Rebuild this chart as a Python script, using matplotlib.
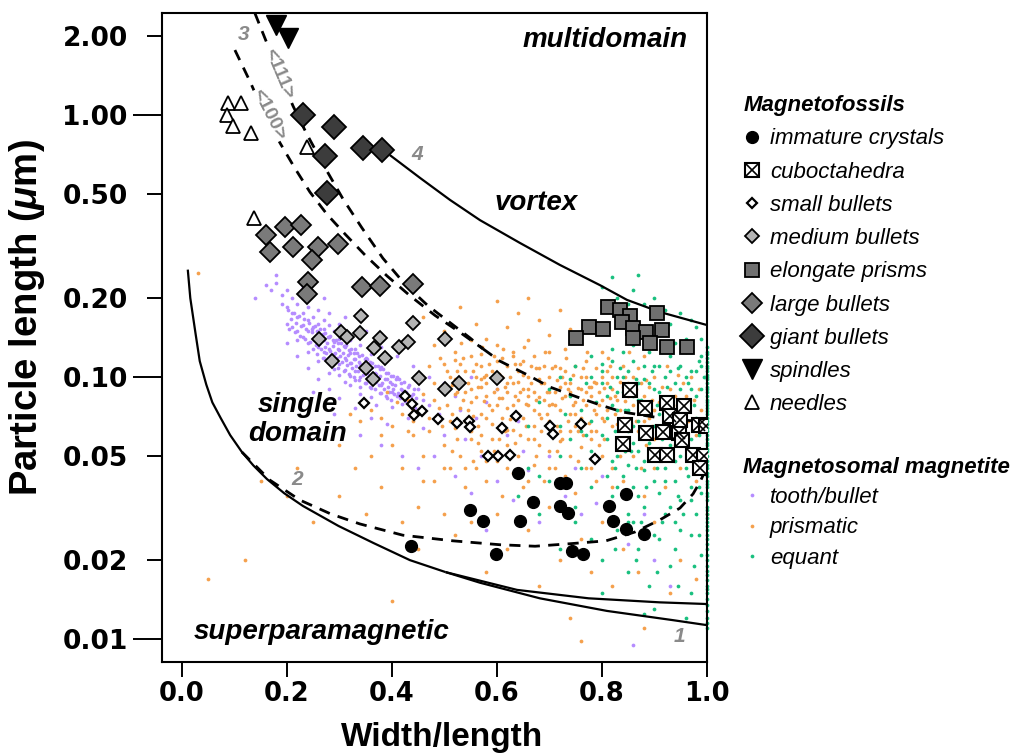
import matplotlib
matplotlib.use('Agg')
import matplotlib.pyplot as plt
from matplotlib.ticker import FixedLocator, FixedFormatter
from matplotlib.legend_handler import HandlerTuple

plt.rcParams['font.family'] = ['Liberation Sans', 'DejaVu Sans']
plt.rcParams['mathtext.fontset'] = 'custom'
plt.rcParams['mathtext.it'] = 'Liberation Sans:italic:bold'
plt.rcParams['mathtext.rm'] = 'Liberation Sans:bold'

# ---- magnetofossil morphologies (width/length, length in um) ----
immature_x = [0.640, 0.720, 0.732, 0.669, 0.720, 0.736, 0.549, 0.574, 0.644, 0.598, 0.743, 0.764,
              0.846, 0.814, 0.821, 0.846, 0.881, 0.436]
immature_y = [0.0430, 0.0394, 0.0394, 0.0333, 0.0322, 0.0303, 0.0311, 0.0282, 0.0282, 0.0211, 0.0217, 0.0211,
              0.0358, 0.0322, 0.0282, 0.0263, 0.0252, 0.0226]

cubo_x = [0.854, 0.882, 0.924, 0.957, 0.844, 0.884, 0.917, 0.947, 0.985, 0.999, 0.841, 0.902, 0.924,
          0.974, 0.995, 0.987, 0.930, 0.949, 0.953]
cubo_y = [0.0892, 0.0762, 0.0796, 0.0775, 0.0656, 0.0611, 0.0617, 0.0611, 0.0656, 0.0650, 0.0555, 0.0504,
          0.0504, 0.0504, 0.0500, 0.0450, 0.0710, 0.0686, 0.0575]

small_x = [0.347, 0.425, 0.438, 0.457, 0.442, 0.488, 0.524, 0.547, 0.549, 0.610, 0.637, 0.701, 0.707,
           0.760, 0.583, 0.602, 0.625, 0.787]
small_y = [0.0796, 0.0846, 0.0789, 0.0742, 0.0716, 0.0692, 0.0668, 0.0679, 0.0645, 0.0639, 0.0710, 0.0650,
           0.0606, 0.0662, 0.0500, 0.0500, 0.0504, 0.0486]

medium_x = [0.341, 0.440, 0.261, 0.303, 0.315, 0.339, 0.377, 0.366, 0.387, 0.414, 0.431, 0.501, 0.286,
            0.351, 0.364, 0.452, 0.501, 0.528, 0.600]
medium_y = [0.171, 0.161, 0.140, 0.149, 0.142, 0.147, 0.141, 0.129, 0.118, 0.130, 0.136, 0.140, 0.115,
            0.108, 0.098, 0.099, 0.090, 0.095, 0.099]

elong_x = [0.812, 0.835, 0.854, 0.839, 0.905, 0.776, 0.802, 0.751, 0.860, 0.884, 0.915, 0.860, 0.892,
           0.924, 0.962]
elong_y = [0.185, 0.180, 0.171, 0.162, 0.176, 0.155, 0.153, 0.141, 0.154, 0.149, 0.151, 0.141, 0.135,
           0.130, 0.130]

large_x = [0.161, 0.196, 0.226, 0.168, 0.212, 0.260, 0.298, 0.247, 0.241, 0.238, 0.343, 0.377, 0.440]
large_y = [0.348, 0.375, 0.380, 0.299, 0.313, 0.313, 0.321, 0.280, 0.231, 0.207, 0.221, 0.223, 0.227]

giant_x = [0.231, 0.290, 0.273, 0.346, 0.381, 0.276]
giant_y = [1.00, 0.898, 0.697, 0.746, 0.735, 0.505]

spindle_x = [0.180, 0.203]
spindle_y = [2.21, 1.96]

needle_x = [0.088, 0.112, 0.085, 0.098, 0.131, 0.238, 0.137]
needle_y = [1.108, 1.114, 1.00, 0.908, 0.852, 0.757, 0.403]

# ---- magnetosomal magnetite (TEM measurements) ----
tooth_pts = [
    (0.17, 0.215), (0.16, 0.225), (0.18, 0.228), (0.19, 0.205), (0.20, 0.215), (0.21, 0.200), (0.19, 0.190),
    (0.20, 0.185), (0.21, 0.175), (0.22, 0.190), (0.23, 0.200), (0.24, 0.185), (0.22, 0.170), (0.23, 0.175),
    (0.24, 0.165), (0.25, 0.170), (0.26, 0.180), (0.27, 0.165), (0.28, 0.175), (0.20, 0.160), (0.21, 0.155),
    (0.22, 0.150), (0.23, 0.158), (0.24, 0.150), (0.25, 0.155), (0.26, 0.160), (0.27, 0.152), (0.28, 0.158),
    (0.29, 0.150), (0.30, 0.160), (0.22, 0.138), (0.23, 0.142), (0.24, 0.135), (0.25, 0.140), (0.26, 0.145),
    (0.27, 0.138), (0.28, 0.142), (0.29, 0.136), (0.30, 0.140), (0.31, 0.145), (0.32, 0.138), (0.24, 0.125),
    (0.25, 0.128), (0.26, 0.130), (0.27, 0.125), (0.28, 0.128), (0.29, 0.122), (0.30, 0.127), (0.31, 0.130),
    (0.32, 0.123), (0.33, 0.128), (0.34, 0.132), (0.26, 0.115), (0.27, 0.118), (0.28, 0.113), (0.29, 0.116),
    (0.30, 0.112), (0.31, 0.118), (0.32, 0.113), (0.33, 0.117), (0.34, 0.112), (0.35, 0.118), (0.36, 0.122),
    (0.28, 0.104), (0.29, 0.107), (0.30, 0.102), (0.31, 0.106), (0.32, 0.101), (0.33, 0.105), (0.34, 0.100),
    (0.35, 0.104), (0.36, 0.108), (0.37, 0.103), (0.38, 0.109), (0.31, 0.096), (0.32, 0.093), (0.33, 0.097),
    (0.34, 0.092), (0.35, 0.095), (0.36, 0.091), (0.37, 0.096), (0.38, 0.093), (0.39, 0.098), (0.40, 0.094),
    (0.41, 0.100), (0.34, 0.086), (0.36, 0.084), (0.38, 0.087), (0.39, 0.083), (0.40, 0.088), (0.41, 0.085),
    (0.42, 0.089), (0.43, 0.092), (0.44, 0.086), (0.45, 0.090), (0.37, 0.078), (0.40, 0.077), (0.42, 0.079),
    (0.44, 0.080), (0.46, 0.082), (0.47, 0.078), (0.14, 0.200), (0.18, 0.245), (0.23, 0.220), (0.27, 0.200),
    (0.31, 0.170), (0.35, 0.150), (0.38, 0.130), (0.41, 0.120), (0.44, 0.110), (0.47, 0.100), (0.50, 0.095),
    (0.52, 0.085), (0.49, 0.072), (0.53, 0.075), (0.56, 0.070), (0.58, 0.080), (0.20, 0.135), (0.22, 0.120),
    (0.24, 0.108), (0.26, 0.098), (0.28, 0.090), (0.30, 0.083), (0.33, 0.076), (0.36, 0.070), (0.39, 0.066),
    (0.43, 0.070), (0.46, 0.064), (0.50, 0.060), (0.54, 0.058), (0.57, 0.050), (0.62, 0.060), (0.65, 0.052),
    (0.34, 0.060), (0.38, 0.055), (0.42, 0.050), (0.45, 0.045), (0.48, 0.050), (0.52, 0.042), (0.55, 0.036),
    (0.60, 0.040), (0.63, 0.034), (0.66, 0.044), (0.70, 0.050), (0.73, 0.035), (0.76, 0.030), (0.79, 0.033),
    (0.82, 0.028), (0.85, 0.023), (0.88, 0.030), (0.90, 0.020), (0.80, 0.042), (0.68, 0.028), (0.58, 0.026),
    (0.86, 0.0095), (0.93, 0.016), (0.75, 0.045), (0.64, 0.068), (0.60, 0.090), (0.55, 0.100), (0.29, 0.072),
    (0.25, 0.088),
    (0.205, 0.153), (0.207, 0.166), (0.203, 0.181), (0.215, 0.148), (0.217, 0.161), (0.213, 0.176),
    (0.225, 0.144), (0.227, 0.157), (0.223, 0.171), (0.235, 0.140), (0.237, 0.152), (0.233, 0.166),
    (0.245, 0.136), (0.247, 0.148), (0.243, 0.161), (0.255, 0.132), (0.257, 0.144), (0.253, 0.157),
    (0.265, 0.128), (0.267, 0.139), (0.263, 0.152), (0.275, 0.124), (0.277, 0.135), (0.273, 0.147),
    (0.285, 0.121), (0.287, 0.131), (0.283, 0.143), (0.295, 0.118), (0.297, 0.128), (0.293, 0.139),
    (0.305, 0.114), (0.307, 0.124), (0.303, 0.135), (0.315, 0.111), (0.317, 0.121), (0.313, 0.132),
    (0.325, 0.108), (0.327, 0.117), (0.323, 0.128), (0.335, 0.105), (0.337, 0.114), (0.333, 0.124),
    (0.345, 0.102), (0.347, 0.111), (0.343, 0.121), (0.355, 0.098), (0.357, 0.107), (0.353, 0.117),
    (0.365, 0.096), (0.367, 0.104), (0.363, 0.113), (0.375, 0.093), (0.377, 0.101), (0.373, 0.110),
    (0.385, 0.090), (0.387, 0.098), (0.383, 0.107), (0.395, 0.088), (0.397, 0.096), (0.393, 0.104),
    (0.405, 0.086), (0.407, 0.093), (0.403, 0.101), (0.415, 0.083), (0.417, 0.090), (0.413, 0.098),
    (0.425, 0.081), (0.427, 0.088), (0.423, 0.096), (0.435, 0.078), (0.437, 0.085), (0.433, 0.093),
    (0.445, 0.076), (0.447, 0.083), (0.443, 0.090),
    (0.252, 0.138), (0.262, 0.134), (0.272, 0.130), (0.282, 0.126), (0.292, 0.124), (0.302, 0.120),
    (0.312, 0.116), (0.322, 0.113), (0.332, 0.110), (0.342, 0.107), (0.352, 0.104), (0.362, 0.101),
    (0.372, 0.098), (0.382, 0.095), (0.392, 0.092), (0.402, 0.090), (0.412, 0.087), (0.258, 0.122),
    (0.268, 0.118), (0.278, 0.116), (0.288, 0.112), (0.298, 0.108), (0.308, 0.105), (0.318, 0.103),
    (0.328, 0.100), (0.338, 0.097), (0.348, 0.095), (0.358, 0.092), (0.368, 0.090), (0.378, 0.087),
    (0.388, 0.085), (0.398, 0.082), (0.248, 0.152), (0.258, 0.150), (0.268, 0.146), (0.278, 0.142),
    (0.288, 0.139), (0.298, 0.135), (0.308, 0.131), (0.318, 0.127), (0.328, 0.123), (0.338, 0.120),
    (0.348, 0.117), (0.358, 0.114), (0.368, 0.110), (0.378, 0.107), (0.388, 0.104), (0.398, 0.101),
    (0.408, 0.098), (0.418, 0.095)]

prism_pts = [
    (0.46, 0.170), (0.50, 0.150), (0.53, 0.185), (0.56, 0.160), (0.58, 0.140), (0.60, 0.195), (0.62, 0.155),
    (0.64, 0.175), (0.66, 0.138), (0.68, 0.165), (0.70, 0.145), (0.72, 0.180), (0.74, 0.152), (0.76, 0.135),
    (0.60, 0.132), (0.55, 0.138), (0.66, 0.200), (0.70, 0.125), (0.78, 0.148), (0.80, 0.125), (0.52, 0.125),
    (0.48, 0.132), (0.57, 0.122), (0.63, 0.125), (0.73, 0.128),
    (0.45, 0.100), (0.46, 0.086), (0.47, 0.110), (0.48, 0.095), (0.49, 0.076), (0.50, 0.090), (0.50, 0.112),
    (0.51, 0.100), (0.52, 0.086), (0.52, 0.116), (0.53, 0.095), (0.53, 0.076), (0.54, 0.105), (0.54, 0.068),
    (0.55, 0.090), (0.55, 0.120), (0.55, 0.080), (0.56, 0.100), (0.56, 0.084), (0.57, 0.110), (0.57, 0.072),
    (0.58, 0.095), (0.58, 0.085), (0.59, 0.105), (0.59, 0.066), (0.60, 0.090), (0.60, 0.115), (0.60, 0.078),
    (0.57, 0.092), (0.58, 0.102), (0.61, 0.100), (0.61, 0.070), (0.62, 0.088), (0.62, 0.110), (0.62, 0.076),
    (0.63, 0.095), (0.63, 0.063), (0.64, 0.105), (0.64, 0.082), (0.65, 0.090), (0.65, 0.070), (0.65, 0.115),
    (0.63, 0.120), (0.61, 0.083), (0.64, 0.096), (0.66, 0.100), (0.66, 0.078), (0.67, 0.088), (0.67, 0.065),
    (0.68, 0.108), (0.68, 0.072), (0.69, 0.095), (0.69, 0.082), (0.70, 0.100), (0.70, 0.068), (0.70, 0.088),
    (0.67, 0.120), (0.66, 0.090), (0.68, 0.084), (0.71, 0.110), (0.71, 0.078), (0.72, 0.092), (0.72, 0.062),
    (0.73, 0.085), (0.73, 0.105), (0.74, 0.072), (0.74, 0.095), (0.75, 0.080), (0.75, 0.110), (0.75, 0.065),
    (0.72, 0.075), (0.74, 0.088), (0.76, 0.090), (0.76, 0.070), (0.77, 0.100), (0.77, 0.078), (0.78, 0.085),
    (0.78, 0.062), (0.79, 0.095), (0.79, 0.072), (0.80, 0.082), (0.80, 0.100), (0.77, 0.115), (0.79, 0.108),
    (0.81, 0.075), (0.82, 0.090), (0.82, 0.065), (0.83, 0.082), (0.84, 0.070), (0.85, 0.095), (0.86, 0.078),
    (0.87, 0.062), (0.88, 0.085), (0.89, 0.070), (0.90, 0.100), (0.84, 0.110), (0.88, 0.120), (0.81, 0.105),
    (0.83, 0.058), (0.91, 0.080), (0.92, 0.065), (0.93, 0.090), (0.95, 0.070), (0.96, 0.085), (0.98, 0.060),
    (0.99, 0.075), (0.94, 0.055), (0.97, 0.100), (0.38, 0.070), (0.40, 0.065), (0.41, 0.080), (0.42, 0.072),
    (0.43, 0.062), (0.44, 0.075), (0.39, 0.088), (0.36, 0.075), (0.34, 0.068), (0.32, 0.072),
    (0.505, 0.078), (0.515, 0.093), (0.525, 0.105), (0.535, 0.082), (0.545, 0.095), (0.555, 0.071),
    (0.565, 0.092), (0.575, 0.081), (0.585, 0.112), (0.595, 0.088), (0.605, 0.103), (0.615, 0.092),
    (0.625, 0.069), (0.635, 0.085), (0.645, 0.112), (0.655, 0.079), (0.665, 0.095), (0.675, 0.108),
    (0.685, 0.062), (0.695, 0.088), (0.705, 0.079), (0.715, 0.097), (0.725, 0.083), (0.735, 0.068),
    (0.745, 0.102), (0.755, 0.091), (0.765, 0.082), (0.775, 0.067), (0.785, 0.096), (0.795, 0.078),
    (0.805, 0.091), (0.815, 0.083), (0.825, 0.072), (0.835, 0.096), (0.845, 0.081), (0.855, 0.067),
    (0.865, 0.090), (0.875, 0.075), (0.885, 0.097), (0.895, 0.082), (0.51, 0.068), (0.53, 0.112),
    (0.55, 0.062), (0.57, 0.098), (0.59, 0.075), (0.61, 0.118), (0.63, 0.078), (0.65, 0.102), (0.67, 0.075),
    (0.69, 0.110), (0.71, 0.088), (0.73, 0.095), (0.75, 0.072), (0.77, 0.088), (0.79, 0.062), (0.81, 0.095),
    (0.83, 0.066), (0.85, 0.085), (0.87, 0.108), (0.89, 0.092), (0.52, 0.098), (0.54, 0.088), (0.56, 0.112),
    (0.58, 0.070), (0.60, 0.100), (0.62, 0.095), (0.64, 0.072), (0.66, 0.085), (0.68, 0.098), (0.70, 0.078),
    (0.72, 0.108), (0.74, 0.062), (0.76, 0.100), (0.78, 0.092), (0.80, 0.070), (0.82, 0.100), (0.84, 0.092),
    (0.86, 0.100), (0.88, 0.068), (0.90, 0.075), (0.605, 0.058), (0.645, 0.060), (0.685, 0.070),
    (0.725, 0.058), (0.765, 0.060), (0.805, 0.058), (0.845, 0.052), (0.885, 0.055), (0.565, 0.056),
    (0.525, 0.058),
    (0.505, 0.105), (0.515, 0.072), (0.525, 0.088), (0.535, 0.118), (0.545, 0.075), (0.555, 0.105),
    (0.565, 0.065), (0.575, 0.100), (0.585, 0.078), (0.595, 0.120), (0.605, 0.083), (0.615, 0.062),
    (0.625, 0.100), (0.635, 0.112), (0.645, 0.088), (0.655, 0.065), (0.665, 0.110), (0.675, 0.082),
    (0.685, 0.095), (0.695, 0.072), (0.705, 0.108), (0.715, 0.065), (0.725, 0.100), (0.735, 0.090),
    (0.745, 0.078), (0.755, 0.062), (0.765, 0.108), (0.775, 0.092), (0.785, 0.075), (0.795, 0.088),
    (0.805, 0.068), (0.815, 0.110), (0.825, 0.085), (0.835, 0.075), (0.845, 0.100), (0.855, 0.088),
    (0.865, 0.068), (0.875, 0.095), (0.885, 0.078), (0.895, 0.065), (0.612, 0.128), (0.652, 0.130),
    (0.692, 0.125), (0.732, 0.118), (0.772, 0.125), (0.812, 0.118), (0.852, 0.125), (0.572, 0.130),
    (0.532, 0.135), (0.492, 0.118), (0.48, 0.082), (0.47, 0.070), (0.495, 0.065), (0.46, 0.100),
    (0.455, 0.075), (0.44, 0.068), (0.43, 0.082), (0.515, 0.052), (0.555, 0.048), (0.595, 0.052),
    (0.635, 0.056), (0.675, 0.050), (0.715, 0.052), (0.755, 0.048), (0.795, 0.055), (0.835, 0.050),
    (0.875, 0.045), (0.915, 0.052), (0.955, 0.060), (0.985, 0.052), (0.915, 0.092), (0.935, 0.078),
    (0.955, 0.095), (0.975, 0.082), (0.925, 0.110), (0.965, 0.068), (0.945, 0.102), (0.985, 0.090),
    (0.90, 0.058), (0.94, 0.085), (0.62, 0.045), (0.66, 0.040), (0.70, 0.045), (0.74, 0.040), (0.78, 0.045),
    (0.58, 0.048), (0.54, 0.045), (0.50, 0.045), (0.46, 0.040), (0.82, 0.038),
    (0.40, 0.055), (0.42, 0.045), (0.44, 0.060), (0.46, 0.050), (0.48, 0.040), (0.50, 0.055), (0.51, 0.045),
    (0.53, 0.050), (0.54, 0.038), (0.55, 0.058), (0.56, 0.045), (0.57, 0.052), (0.58, 0.040), (0.59, 0.058),
    (0.60, 0.048), (0.61, 0.035), (0.62, 0.055), (0.63, 0.043), (0.64, 0.050), (0.65, 0.038), (0.66, 0.058),
    (0.67, 0.046), (0.68, 0.055), (0.69, 0.040), (0.70, 0.052), (0.71, 0.045), (0.72, 0.057), (0.73, 0.042),
    (0.74, 0.050), (0.75, 0.036), (0.76, 0.054), (0.77, 0.045), (0.78, 0.058), (0.79, 0.040), (0.80, 0.050),
    (0.82, 0.045), (0.84, 0.040), (0.86, 0.050), (0.88, 0.035), (0.90, 0.045), (0.92, 0.038), (0.95, 0.045),
    (0.98, 0.040), (0.36, 0.050), (0.38, 0.060), (0.33, 0.045), (0.30, 0.055), (0.47, 0.062), (0.52, 0.064),
    (0.57, 0.060), (0.62, 0.063), (0.67, 0.058),
    (0.30, 0.035), (0.35, 0.030), (0.38, 0.038), (0.42, 0.028), (0.45, 0.032), (0.50, 0.030), (0.52, 0.025),
    (0.55, 0.028), (0.60, 0.030), (0.62, 0.022), (0.66, 0.026), (0.70, 0.032), (0.72, 0.020), (0.76, 0.024),
    (0.78, 0.018), (0.80, 0.028), (0.82, 0.016), (0.84, 0.022), (0.87, 0.018), (0.90, 0.028), (0.93, 0.015),
    (0.95, 0.020), (0.98, 0.017), (1.00, 0.030), (0.68, 0.016), (0.58, 0.018), (0.25, 0.028), (0.20, 0.035),
    (0.15, 0.040), (0.12, 0.020), (0.05, 0.017), (0.40, 0.014), (0.74, 0.012), (0.88, 0.011), (0.76, 0.0098),
    (0.45, 0.022), (0.03, 0.250), (0.22, 0.045)]

equant_pts = [
    (0.80, 0.220), (0.83, 0.200), (0.86, 0.215), (0.88, 0.190), (0.90, 0.200), (0.92, 0.180), (0.95, 0.175),
    (0.97, 0.165), (0.85, 0.190), (0.99, 0.140), (0.82, 0.240), (0.87, 0.245), (0.93, 0.160), (0.96, 0.140),
    (0.91, 0.145), (0.98, 0.155), (0.75, 0.110), (0.77, 0.095), (0.78, 0.120), (0.80, 0.105), (0.81, 0.085),
    (0.82, 0.115), (0.83, 0.100), (0.84, 0.125), (0.85, 0.105), (0.86, 0.115), (0.87, 0.095), (0.88, 0.110),
    (0.89, 0.125), (0.90, 0.090), (0.91, 0.110), (0.92, 0.100), (0.93, 0.120), (0.94, 0.095), (0.95, 0.110),
    (0.96, 0.125), (0.97, 0.090), (0.98, 0.105), (0.99, 0.120), (0.70, 0.090), (0.72, 0.100), (0.74, 0.085),
    (0.76, 0.075), (0.79, 0.080), (0.81, 0.070), (0.83, 0.075), (0.86, 0.085), (0.88, 0.075), (0.90, 0.065),
    (0.92, 0.080), (0.94, 0.070), (0.96, 0.080), (0.98, 0.070), (0.99, 0.090), (0.87, 0.068), (0.95, 0.090),
    (0.85, 0.062), (0.89, 0.058), (0.93, 0.062), (0.97, 0.058), (0.91, 0.072), (0.84, 0.088), (0.80, 0.095),
    (0.78, 0.068), (0.73, 0.072), (0.68, 0.080), (0.66, 0.065), (0.72, 0.050), (0.74, 0.058), (0.76, 0.045),
    (0.78, 0.052), (0.80, 0.060), (0.81, 0.042), (0.83, 0.050), (0.84, 0.058), (0.85, 0.046), (0.86, 0.038),
    (0.87, 0.052), (0.88, 0.044), (0.89, 0.056), (0.90, 0.040), (0.91, 0.050), (0.92, 0.045), (0.93, 0.055),
    (0.94, 0.040), (0.95, 0.050), (0.96, 0.045), (0.97, 0.038), (0.98, 0.052), (0.99, 0.043), (0.82, 0.035),
    (0.88, 0.032), (0.92, 0.030), (0.95, 0.034), (0.78, 0.038), (0.70, 0.040), (0.66, 0.045), (0.62, 0.050),
    (0.64, 0.035), (0.68, 0.042), (0.75, 0.032), (0.85, 0.030), (0.98, 0.030), (0.75, 0.028), (0.78, 0.024),
    (0.80, 0.020), (0.83, 0.026), (0.85, 0.018), (0.87, 0.022), (0.89, 0.016), (0.91, 0.024), (0.93, 0.019),
    (0.95, 0.026), (0.97, 0.015), (0.99, 0.021), (0.90, 0.013), (0.96, 0.012), (0.72, 0.022), (0.68, 0.030),
    (0.85, 0.028), (0.94, 0.022), (0.80, 0.015), (0.88, 0.0125),
    (0.815, 0.092), (0.825, 0.062), (0.835, 0.108), (0.845, 0.075), (0.855, 0.052), (0.865, 0.098),
    (0.875, 0.082), (0.885, 0.062), (0.895, 0.105), (0.905, 0.078), (0.915, 0.058), (0.925, 0.092),
    (0.935, 0.075), (0.945, 0.108), (0.955, 0.062), (0.965, 0.095), (0.975, 0.078), (0.985, 0.060),
    (0.995, 0.100), (0.985, 0.115), (0.82, 0.048), (0.84, 0.042), (0.86, 0.056), (0.88, 0.048), (0.90, 0.052),
    (0.92, 0.040), (0.94, 0.048), (0.96, 0.055), (0.98, 0.046), (0.995, 0.050), (0.83, 0.038), (0.87, 0.035),
    (0.91, 0.036), (0.93, 0.032), (0.97, 0.034), (0.99, 0.036), (0.86, 0.028), (0.90, 0.025), (0.94, 0.028),
    (0.97, 0.025), (0.76, 0.062), (0.78, 0.100), (0.74, 0.098), (0.72, 0.065), (0.80, 0.112), (0.82, 0.128),
    (0.86, 0.132), (0.90, 0.130), (0.94, 0.135), (0.97, 0.128),
    (0.81, 0.058), (0.83, 0.088), (0.85, 0.075), (0.87, 0.082), (0.89, 0.095), (0.91, 0.088), (0.93, 0.105),
    (0.95, 0.082), (0.97, 0.105), (0.99, 0.068), (0.82, 0.078), (0.84, 0.100), (0.86, 0.065), (0.88, 0.098),
    (0.90, 0.110), (0.92, 0.068), (0.94, 0.060), (0.96, 0.100), (0.98, 0.085), (0.99, 0.110), (0.825, 0.045),
    (0.845, 0.052), (0.865, 0.045), (0.885, 0.038), (0.905, 0.045), (0.925, 0.050), (0.945, 0.035),
    (0.965, 0.042), (0.985, 0.038), (0.875, 0.028), (0.915, 0.028), (0.955, 0.030), (0.985, 0.025),
    (0.825, 0.022), (0.865, 0.020), (0.905, 0.018), (0.945, 0.016), (0.975, 0.019), (0.79, 0.050),
    (0.77, 0.060)]
# equant crystals with width/length = 1 pile up on the right edge
equant_edge_y = [0.011, 0.0115, 0.012, 0.0128, 0.0135, 0.0142, 0.015, 0.0155, 0.016, 0.0168, 0.0175, 0.0182,
                 0.019, 0.020, 0.021, 0.022, 0.023, 0.024, 0.025, 0.026, 0.027, 0.028, 0.029, 0.030, 0.031,
                 0.032, 0.034, 0.035, 0.036, 0.038, 0.039, 0.040, 0.042, 0.043, 0.045, 0.046, 0.048, 0.050,
                 0.052, 0.053, 0.055, 0.056, 0.058, 0.060, 0.062, 0.064, 0.066, 0.068, 0.070, 0.072, 0.074,
                 0.076, 0.078, 0.080, 0.082, 0.085, 0.088, 0.090, 0.092, 0.095, 0.098, 0.100, 0.102, 0.105,
                 0.108, 0.110, 0.114, 0.118, 0.122, 0.125, 0.130]

# ---- domain-state boundaries ----
sp_x = [0.0112, 0.016, 0.0261, 0.034, 0.0465, 0.058, 0.0738, 0.092, 0.1144, 0.136, 0.162, 0.195, 0.2306,
        0.2985, 0.366, 0.4345, 0.5026]
sp_y = [0.257, 0.200, 0.146, 0.115, 0.0935, 0.080, 0.0698, 0.060, 0.0517, 0.046, 0.0408, 0.036, 0.0322,
        0.0270, 0.0232, 0.0200, 0.0180]
sp_upper_x = [0.5026, 0.6385, 0.775, 0.911, 1.0]
sp_upper_y = [0.0180, 0.0154, 0.0143, 0.0138, 0.0136]
sp_lower_x = [0.5026, 0.568, 0.682, 0.810, 0.936, 1.0]
sp_lower_y = [0.0180, 0.0164, 0.0143, 0.0128, 0.0118, 0.0113]

curve2_x = [0.1144, 0.1677, 0.2249, 0.284, 0.339, 0.421, 0.5165, 0.606, 0.673, 0.739, 0.808, 0.863,
            0.911, 0.949, 0.974, 0.987, 1.0]
curve2_y = [0.0517, 0.0404, 0.0339, 0.0300, 0.0275, 0.0249, 0.0237, 0.0229, 0.0226, 0.0231, 0.0237,
            0.0256, 0.0285, 0.0316, 0.0358, 0.0397, 0.0450]

c100_x = [0.101, 0.130, 0.158, 0.187, 0.215, 0.244, 0.276, 0.311, 0.349, 0.391, 0.435, 0.482, 0.530, 0.574]
c100_y = [1.77, 1.34, 1.00, 0.782, 0.628, 0.508, 0.419, 0.351, 0.292, 0.243, 0.204, 0.172, 0.148, 0.128]
c111_x = [0.139, 0.162, 0.187, 0.212, 0.238, 0.273, 0.307, 0.343, 0.383, 0.425, 0.469, 0.515, 0.549, 0.574]
c111_y = [2.45, 1.88, 1.41, 1.08, 0.846, 0.628, 0.478, 0.371, 0.284, 0.226, 0.187, 0.159, 0.141, 0.128]
c3_tail_x = [0.574, 0.606, 0.658, 0.701, 0.753, 0.797, 0.840, 0.911, 1.0]
c3_tail_y = [0.128, 0.115, 0.102, 0.0916, 0.0839, 0.0782, 0.0735, 0.0698, 0.0673]

vortex_x = [0.396, 0.454, 0.511, 0.568, 0.644, 0.720, 0.797, 0.848, 0.911, 1.0]
vortex_y = [0.704, 0.575, 0.474, 0.397, 0.325, 0.268, 0.224, 0.197, 0.177, 0.158]

y_major = [0.01, 0.1, 1.0]
y_major_labels = ['0.01', '0.10', '1.00']
y_minor = [0.02, 0.05, 0.2, 0.5, 2.0]
y_minor_labels = ['0.02', '0.05', '0.20', '0.50', '2.00']
x_ticks = [0.0, 0.2, 0.4, 0.6, 0.8, 1.0]

PURPLE = '#b58cff'
ORANGE = '#f5a04c'
GREEN = '#19c07f'
GRAY_TXT = '#8a8a8a'

fig = plt.figure(figsize=(10.18, 7.56), dpi=100)
ax = fig.add_axes([0.1591, 0.1247, 0.5351, 0.8577])
ax.set_yscale('log')

# TEM point clouds
dot_kw = dict(ls='none', marker='o', ms=2.7, mec='none', zorder=1, clip_on=False)
h_tooth, = ax.plot([p[0] for p in tooth_pts], [p[1] for p in tooth_pts], color=PURPLE, **dot_kw)
h_prism, = ax.plot([p[0] for p in prism_pts], [p[1] for p in prism_pts], color=ORANGE, **dot_kw)
h_equant, = ax.plot([p[0] for p in equant_pts] + [1.0] * len(equant_edge_y),
                    [p[1] for p in equant_pts] + equant_edge_y, color=GREEN, **dot_kw)

# boundaries
solid_kw = dict(color='black', lw=1.6, zorder=2, solid_capstyle='butt', solid_joinstyle='round')
dash_kw = dict(color='black', lw=2.0, ls=(0, (4, 3)), zorder=2)
ax.plot(sp_x, sp_y, **solid_kw)
ax.plot(sp_upper_x, sp_upper_y, **solid_kw)
ax.plot(sp_lower_x, sp_lower_y, **solid_kw)
ax.plot(vortex_x, vortex_y, **solid_kw)
ax.plot(curve2_x, curve2_y, **dash_kw)
ax.plot(c100_x, c100_y, **dash_kw)
ax.plot(c111_x, c111_y, **dash_kw)
ax.plot(c3_tail_x, c3_tail_y, **dash_kw)

# magnetofossils
mk = dict(ls='none', mec='black', zorder=3)
h_imm, = ax.plot(immature_x, immature_y, marker='o', ms=8.5, mfc='black', **mk)
h_cubo_s, = ax.plot(cubo_x, cubo_y, marker='s', ms=10, mfc='white', mew=1.5, **mk)
h_cubo_x, = ax.plot(cubo_x, cubo_y, marker='x', ms=9, mew=1.2, color='black', ls='none', zorder=3)
h_small, = ax.plot(small_x, small_y, marker='D', ms=5, mfc='white', mew=1.6, **mk)
h_med, = ax.plot(medium_x, medium_y, marker='D', ms=7.5, mfc='#b4b4b4', mew=1.3, **mk)
h_elong, = ax.plot(elong_x, elong_y, marker='s', ms=10.5, mfc='#707070', mew=1.3, **mk)
h_large, = ax.plot(large_x, large_y, marker='D', ms=10, mfc='#7a7a7a', mew=1.3, **mk)
h_giant, = ax.plot(giant_x, giant_y, marker='D', ms=12.5, mfc='#3c3c3c', mew=1.3, **mk)
h_spin, = ax.plot(spindle_x, spindle_y, marker='v', ms=14, mfc='black', **mk)
h_needle, = ax.plot(needle_x, needle_y, marker='^', ms=10, mfc='white', mew=1.3, **mk)

ax.set_xlim(-0.038, 1.0)
ax.set_ylim(0.00819, 2.445)

# axes styling
for s in ax.spines.values():
    s.set_linewidth(1.5)
ax.yaxis.set_major_locator(FixedLocator(y_major))
ax.yaxis.set_major_formatter(FixedFormatter(y_major_labels))
ax.yaxis.set_minor_locator(FixedLocator(y_minor))
ax.yaxis.set_minor_formatter(FixedFormatter(y_minor_labels))
ax.set_xticks(x_ticks)
ax.set_xticklabels(['%.1f' % t for t in x_ticks])
ax.tick_params(axis='y', which='major', direction='out', length=21, width=1.4, pad=3.6, labelsize=19)
ax.tick_params(axis='y', which='minor', direction='out', length=10.8, width=1.4, pad=13.8, labelsize=19)
ax.tick_params(axis='x', direction='out', length=10.8, width=1.4, pad=3, labelsize=18.5)
for lbl in ax.get_xticklabels() + ax.get_yticklabels() + ax.get_yticklabels(minor=True):
    lbl.set_fontfamily('DejaVu Sans')
    lbl.set_fontweight('bold')

ax.set_xlabel('Width/length', fontsize=24, fontweight='bold')
ax.xaxis.set_label_coords(0.514, -0.093)
ax.set_ylabel(r'Particle length ($\mathit{\mu}$m)', fontsize=27.5, fontweight='bold')
ax.yaxis.set_label_coords(-0.211, 0.53)

# region names
reg = dict(transform=ax.transAxes, fontsize=20, fontweight='bold', fontstyle='italic')
ax.text(0.9657, 0.9588, 'multidomain', ha='right', va='center', **reg)
ax.text(0.686, 0.7074, 'vortex', ha='center', va='center', **reg)
ax.text(0.2496, 0.373, 'single\ndomain', ha='center', va='center', multialignment='center',
        linespacing=1.15, **reg)
ax.text(0.0587, 0.0458, 'superparamagnetic', ha='left', va='center', **reg)

# curve numbers and easy-axis labels (set into gaps of the dashed lines)
num = dict(transform=ax.transAxes, fontsize=15, fontweight='bold', fontstyle='italic', color=GRAY_TXT,
           ha='center', va='center')
ax.text(0.9491, 0.0396, '1', **num)
ax.text(0.2475, 0.2818, '2', **num)
ax.text(0.1493, 0.9666, '3', **num)
ax.text(0.4687, 0.7815, '4', **num)
axis_lbl = dict(transform=ax.transAxes, fontsize=14, fontweight='bold', color=GRAY_TXT, ha='center',
                va='center', rotation_mode='anchor', zorder=2.5,
                bbox=dict(boxstyle='square,pad=0.05', fc='white', ec='none'))
ax.text(0.2135, 0.9075, '<111>', rotation=-67, **axis_lbl)
ax.text(0.1952, 0.8432, '<100>', rotation=-63, **axis_lbl)

# legends
leg_prop = dict(family='Liberation Sans', style='italic', size=16)
title_prop = dict(family='Liberation Sans', style='italic', weight='bold', size=16)
leg1 = fig.legend([h_imm, (h_cubo_s, h_cubo_x), h_small, h_med, h_elong, h_large, h_giant, h_spin, h_needle],
                  ['immature crystals', 'cuboctahedra', 'small bullets', 'medium bullets', 'elongate prisms',
                   'large bullets', 'giant bullets', 'spindles', 'needles'],
                  title='Magnetofossils', loc='upper left', bbox_to_anchor=(0.730, 0.874),
                  frameon=False, prop=leg_prop, title_fontproperties=title_prop, alignment='left',
                  handlelength=0.8, handletextpad=0.4, labelspacing=0.55, borderpad=0, borderaxespad=0,
                  handler_map={tuple: HandlerTuple(ndivide=1)})
leg2 = fig.legend([h_tooth, h_prism, h_equant], ['tooth/bullet', 'prismatic', 'equant'],
                  title='Magnetosomal magnetite', loc='upper left', bbox_to_anchor=(0.730, 0.396),
                  frameon=False, prop=leg_prop, title_fontproperties=title_prop, alignment='left',
                  handlelength=0.8, handletextpad=0.4, labelspacing=0.42, borderpad=0, borderaxespad=0)

fig.savefig('out.png', dpi=100)
